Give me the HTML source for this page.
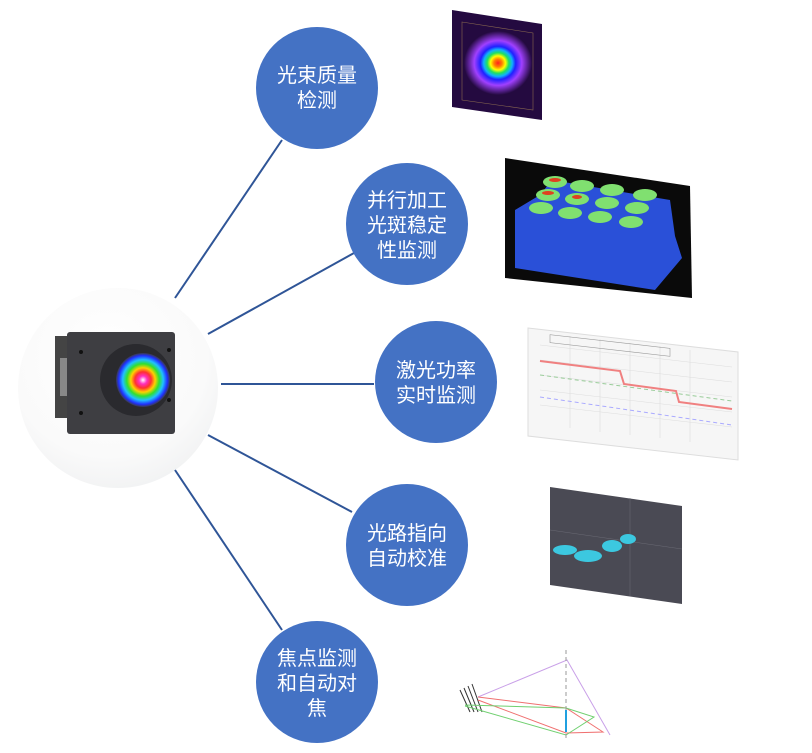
<!DOCTYPE html>
<html><head><meta charset="utf-8"><style>
body{margin:0;background:#fff;width:812px;height:748px;overflow:hidden;font-family:"Liberation Sans","Noto Sans CJK SC",sans-serif}
</style></head><body>
<svg width="812" height="748" viewBox="0 0 812 748" xmlns="http://www.w3.org/2000/svg">
<defs>
<radialGradient id="bg" cx="0.45" cy="0.35" r="0.7"><stop offset="0" stop-color="#fff"/><stop offset="0.7" stop-color="#fafafa"/><stop offset="1" stop-color="#f0f1f2"/></radialGradient>
<radialGradient id="beam"><stop offset="0" stop-color="#fff"/><stop offset="0.15" stop-color="#ff30c0"/><stop offset="0.3" stop-color="#ff3030"/><stop offset="0.45" stop-color="#ffd000"/><stop offset="0.6" stop-color="#30e030"/><stop offset="0.75" stop-color="#20c0ff"/><stop offset="0.9" stop-color="#2030ff"/><stop offset="1" stop-color="#3a3a4a"/></radialGradient>
<radialGradient id="beam2"><stop offset="0" stop-color="#ff2020"/><stop offset="0.12" stop-color="#ff8000"/><stop offset="0.22" stop-color="#ffff00"/><stop offset="0.32" stop-color="#20e060"/><stop offset="0.42" stop-color="#10b0ff"/><stop offset="0.52" stop-color="#2020ff"/><stop offset="0.7" stop-color="#a040ff"/><stop offset="1" stop-color="#240a40"/></radialGradient>
</defs>
<circle cx="118" cy="388" r="100" fill="url(#bg)"/>
<g stroke="#2f5597" stroke-width="2">
<line x1="175" y1="298" x2="282" y2="140"/>
<line x1="208" y1="334" x2="354" y2="253"/>
<line x1="221" y1="384" x2="374" y2="384"/>
<line x1="208" y1="435" x2="352" y2="512"/>
<line x1="175" y1="470" x2="282" y2="630"/>
</g>
<!-- camera -->
<rect x="55" y="336" width="14" height="82" fill="#444"/>
<rect x="60" y="358" width="8" height="38" fill="#888"/>
<rect x="67" y="332" width="108" height="102" rx="3" fill="#3e3e42"/>
<circle cx="81" cy="352" r="2" fill="#111"/><circle cx="81" cy="413" r="2" fill="#111"/>
<circle cx="169" cy="350" r="2" fill="#111"/><circle cx="169" cy="400" r="2" fill="#111"/>
<circle cx="136" cy="380" r="36" fill="#2a2a2e"/>
<circle cx="143" cy="380" r="27" fill="url(#beam)"/>
<!-- circles -->
<g fill="#4472c4">
<circle cx="317" cy="88" r="61"/>
<circle cx="407" cy="224" r="61"/>
<circle cx="436" cy="382" r="61"/>
<circle cx="407" cy="545" r="61"/>
<circle cx="317" cy="682" r="61"/>
</g>
<g fill="#fff" font-size="20" text-anchor="middle" font-family="Liberation Sans,Noto Sans CJK SC,sans-serif">
<text x="317" y="82">光束质量</text><text x="317" y="107">检测</text>
<text x="407" y="207">并行加工</text><text x="407" y="232">光斑稳定</text><text x="407" y="257">性监测</text>
<text x="436" y="377">激光功率</text><text x="436" y="402">实时监测</text>
<text x="407" y="540">光路指向</text><text x="407" y="565">自动校准</text>
<text x="317" y="665">焦点监测</text><text x="317" y="690">和自动对</text><text x="317" y="715">焦</text>
</g>
<!-- beam profile -->
<polygon points="452,10 542,24 542,120 452,107" fill="#240a40"/>
<ellipse cx="498" cy="63" rx="34" ry="32" fill="url(#beam2)"/>
<polygon points="462,22 533,33 533,110 462,100" fill="none" stroke="#8a6a50" stroke-width="0.6"/>
<!-- 3d plot -->
<polygon points="505,158 690,186 692,298 505,278" fill="#0a0a0a"/>
<polygon points="515,210 540,195 552,180 670,200 675,236 682,258 655,290 515,268" fill="#2a50d8"/>
<g fill="#80e070">
<ellipse cx="555" cy="182" rx="12" ry="6"/><ellipse cx="582" cy="186" rx="12" ry="6"/><ellipse cx="612" cy="190" rx="12" ry="6"/><ellipse cx="645" cy="195" rx="12" ry="6"/>
<ellipse cx="548" cy="195" rx="12" ry="6"/><ellipse cx="577" cy="199" rx="12" ry="6"/><ellipse cx="607" cy="203" rx="12" ry="6"/><ellipse cx="637" cy="208" rx="12" ry="6"/>
<ellipse cx="541" cy="208" rx="12" ry="6"/><ellipse cx="570" cy="213" rx="12" ry="6"/><ellipse cx="600" cy="217" rx="12" ry="6"/><ellipse cx="631" cy="222" rx="12" ry="6"/>
</g>
<g fill="#e04020"><ellipse cx="555" cy="180" rx="6" ry="2"/><ellipse cx="548" cy="193" rx="6" ry="2"/><ellipse cx="577" cy="197" rx="5" ry="2"/></g>
<!-- chart -->
<polygon points="528,328 738,352 738,460 528,436" fill="#f6f6f6" stroke="#ddd"/>
<g stroke="#ddd" stroke-width="0.6">
<line x1="540" y1="345" x2="732" y2="367"/><line x1="540" y1="360" x2="732" y2="382"/><line x1="540" y1="375" x2="732" y2="397"/><line x1="540" y1="390" x2="732" y2="412"/><line x1="540" y1="405" x2="732" y2="427"/>
<line x1="570" y1="336" x2="570" y2="428"/><line x1="600" y1="339" x2="600" y2="432"/><line x1="630" y1="343" x2="630" y2="435"/><line x1="660" y1="346" x2="660" y2="438"/><line x1="690" y1="350" x2="690" y2="442"/>
</g>
<polyline points="540,361 620,371 624,384 676,391 679,402 732,409" fill="none" stroke="#f08080" stroke-width="2"/>
<polyline points="540,375 732,401" fill="none" stroke="#9c9" stroke-dasharray="4 3"/>
<polyline points="540,397 732,425" fill="none" stroke="#aaf" stroke-dasharray="4 3"/>
<rect x="550" y="334" width="120" height="8" fill="none" stroke="#999" stroke-width="0.6" transform="skewY(6.5) translate(0,-62)"/>
<!-- scatter -->
<polygon points="550,487 682,506 682,604 550,585" fill="#4a4a54"/>
<g stroke="#6a6a74" stroke-width="0.5"><line x1="550" y1="530" x2="682" y2="549"/><line x1="630" y1="498" x2="630" y2="596"/></g>
<g fill="#3cc8e0"><ellipse cx="565" cy="550" rx="12" ry="5"/><ellipse cx="588" cy="556" rx="14" ry="6"/><ellipse cx="612" cy="546" rx="10" ry="6"/><ellipse cx="628" cy="539" rx="8" ry="5"/></g>
<!-- optics -->
<g fill="none" stroke-width="1">
<path d="M460,690 L470,712 M464,688 L474,712 M468,686 L478,712 M472,684 L482,712" stroke="#333"/>
<path d="M478,697 L567,660 L610,735" stroke="#c9a0e8"/>
<path d="M478,697 L566,708 L603,732 L566,733 L478,700" stroke="#f07070"/>
<path d="M465,705 L566,708 L594,717 L566,735 L465,706" stroke="#70d070"/>
<path d="M566,650 L566,740" stroke="#999" stroke-dasharray="4 3"/>
<path d="M566,710 L566,732" stroke="#20a0e0" stroke-width="2"/>
</g>
</svg>
</body></html>
